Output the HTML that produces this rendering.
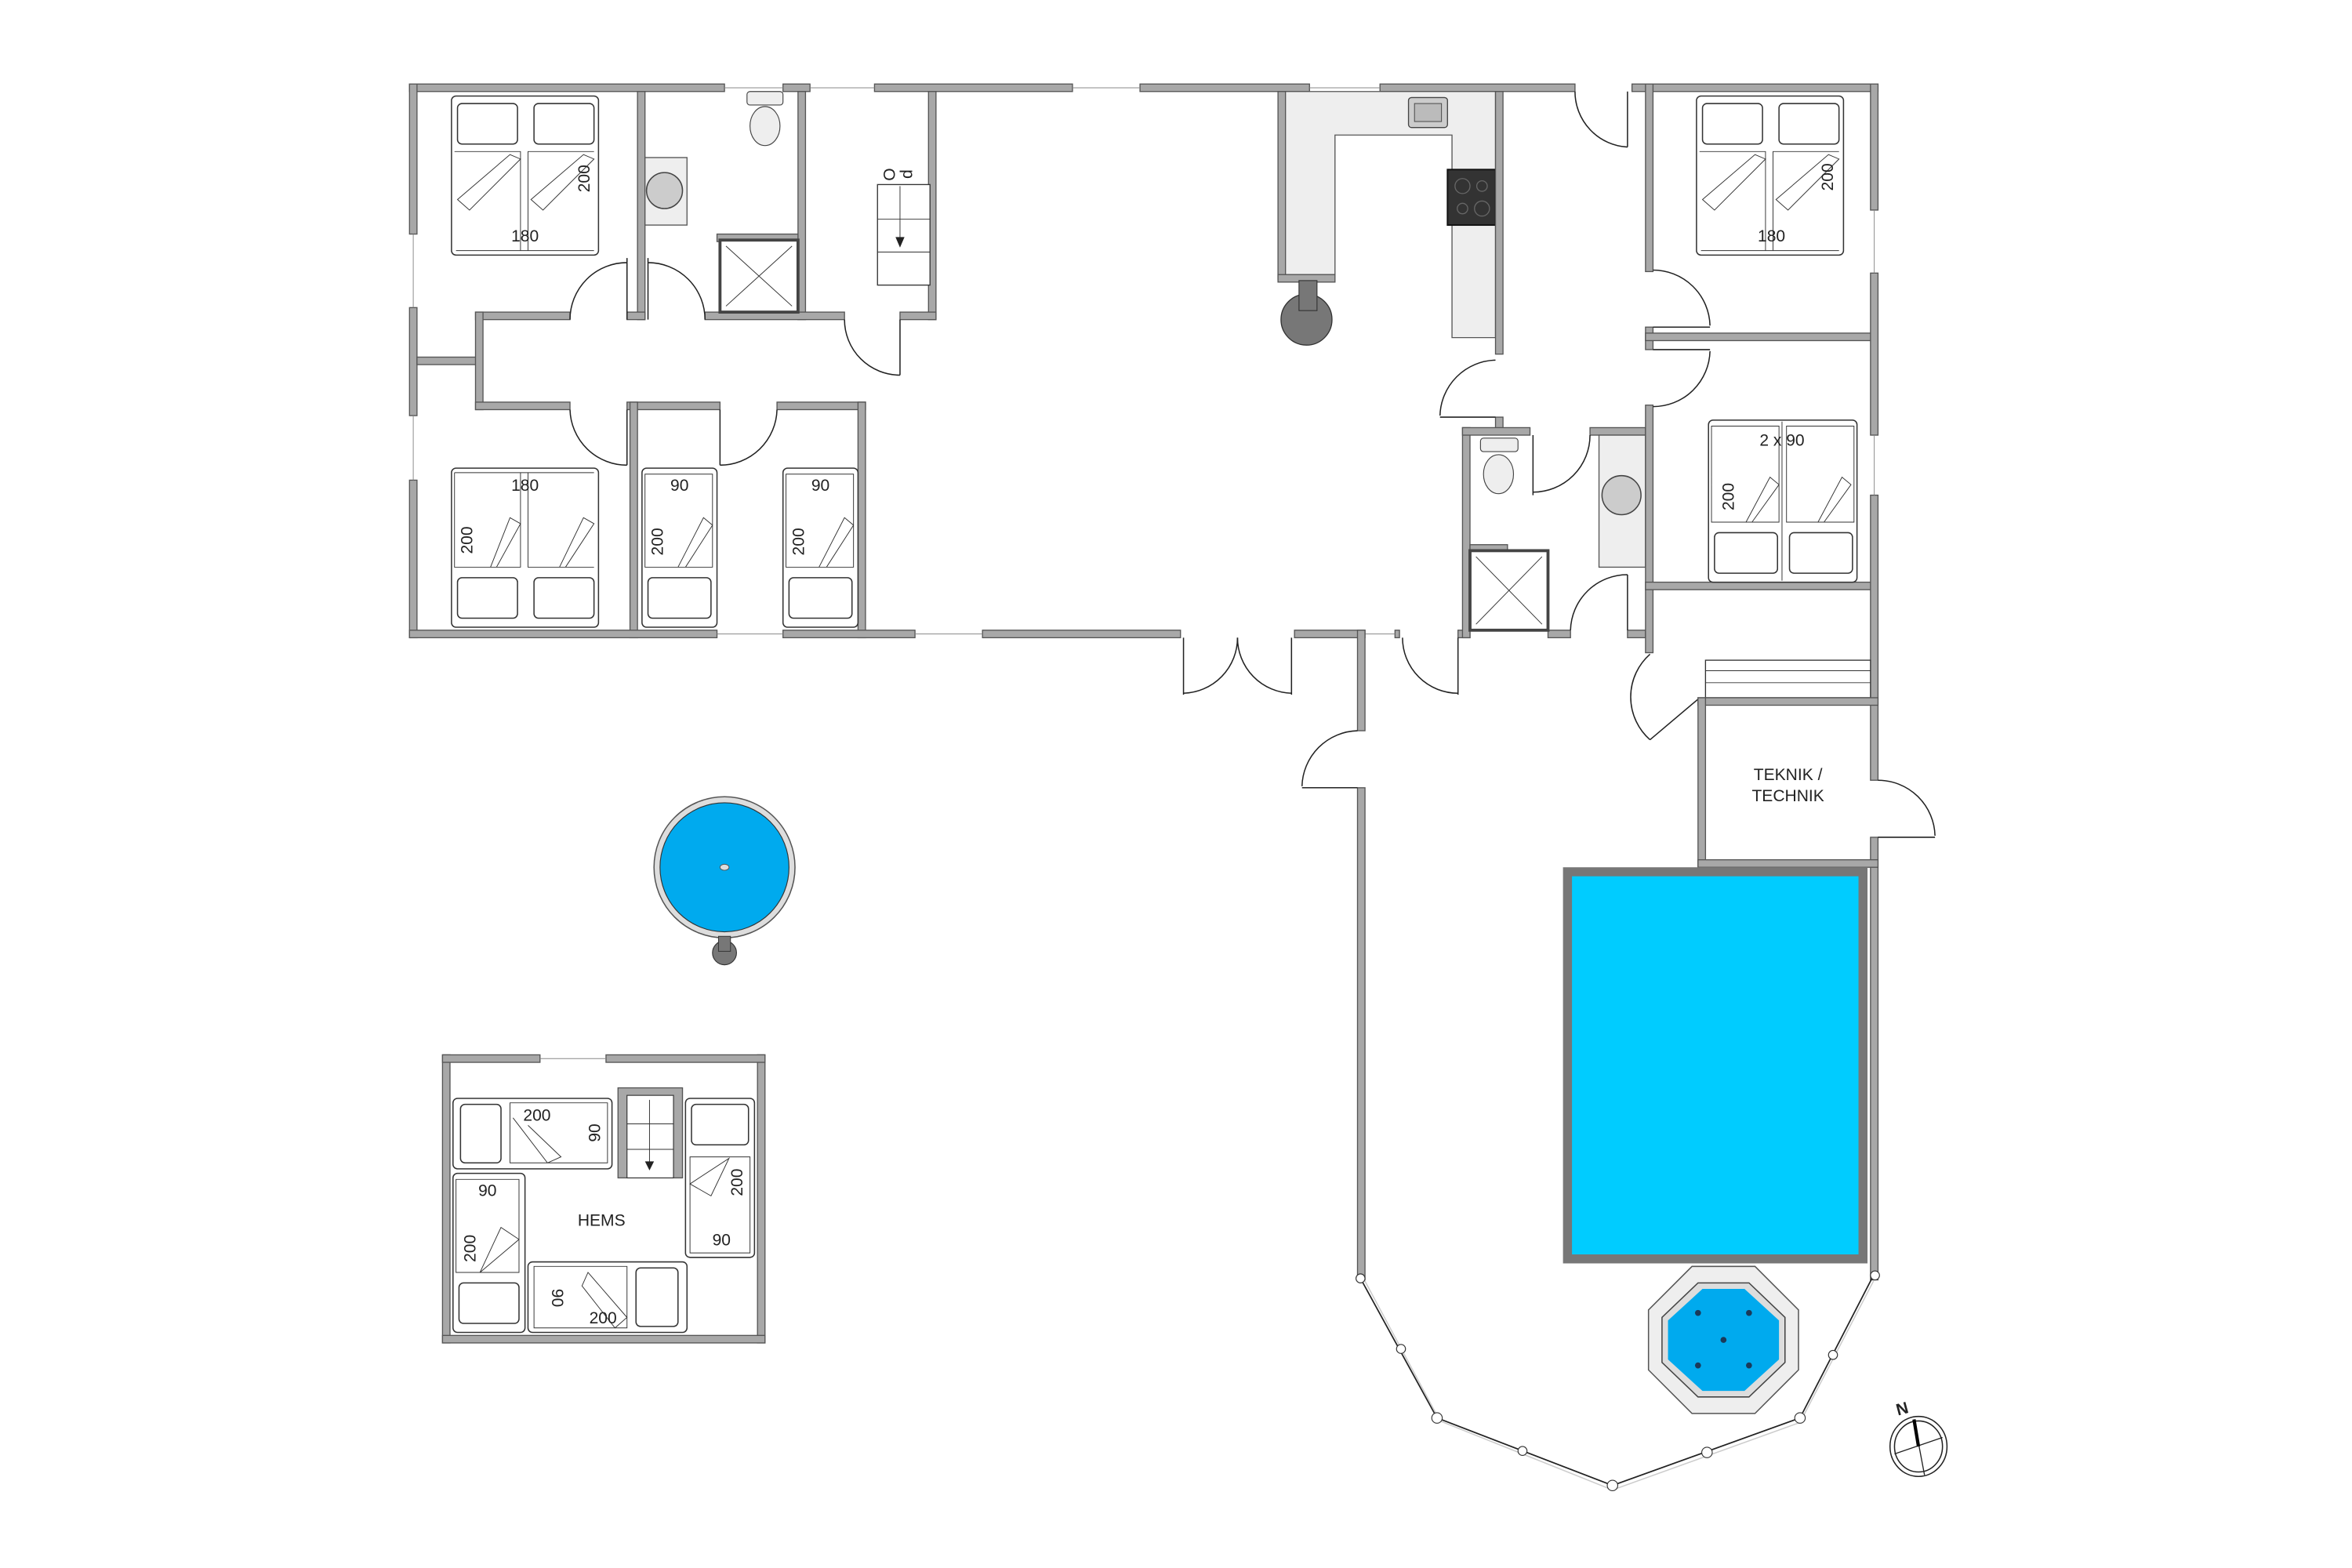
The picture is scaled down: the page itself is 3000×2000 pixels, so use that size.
<!DOCTYPE html>
<html><head><meta charset="utf-8"><style>
html,body{margin:0;padding:0;background:#fff;}
svg{display:block;}
.w{fill:#a8a8a8;stroke:#555;stroke-width:.7;}
.ln{fill:none;stroke:#222;stroke-width:.8;}
.th{fill:none;stroke:#333;stroke-width:.5;}
.bed{fill:#fff;stroke:#333;stroke-width:.8;}
.win{fill:none;stroke:#888;stroke-width:.5;}
.cnt{fill:#eee;stroke:#555;stroke-width:.7;}
text{font-family:"Liberation Sans",sans-serif;font-size:11px;fill:#222;}
</style></head><body>
<svg width="3000" height="2000" viewBox="0 0 1568 1045" preserveAspectRatio="none" xmlns="http://www.w3.org/2000/svg">
<rect width="1568" height="1045" fill="#fff"/>

<rect class="w" x="273" y="56" width="210" height="5"/>
<rect class="w" x="522" y="56" width="18" height="5"/>
<rect class="w" x="583" y="56" width="132" height="5"/>
<rect class="w" x="760" y="56" width="113" height="5"/>
<rect class="w" x="920" y="56" width="130" height="5"/>
<rect class="w" x="1088" y="56" width="164" height="5"/>
<g class="win"><line x1="483" y1="58.5" x2="522" y2="58.5"/><line x1="540" y1="58.5" x2="583" y2="58.5"/><line x1="715" y1="58.5" x2="760" y2="58.5"/><line x1="873" y1="58.5" x2="920" y2="58.5"/></g>

<rect class="w" x="273" y="56" width="5" height="100"/>
<rect class="w" x="273" y="205" width="5" height="72"/>
<rect class="w" x="273" y="320" width="5" height="105"/>
<g class="win"><line x1="275.5" y1="156" x2="275.5" y2="205"/><line x1="275.5" y1="277" x2="275.5" y2="320"/></g>
<rect class="w" x="278" y="238" width="40" height="5"/>

<rect class="w" x="425" y="61" width="5" height="152"/>
<rect class="w" x="532" y="61" width="5" height="152"/>
<rect class="w" x="619" y="61" width="5" height="152"/>
<rect class="w" x="317" y="208" width="63" height="5"/>
<rect class="w" x="418" y="208" width="12" height="5"/>
<rect class="w" x="470" y="208" width="93" height="5"/>
<rect class="w" x="600" y="208" width="24" height="5"/>
<rect class="w" x="317" y="208" width="5" height="65"/>
<rect class="w" x="317" y="268" width="63" height="5"/>
<rect class="w" x="418" y="268" width="62" height="5"/>
<rect class="w" x="518" y="268" width="59" height="5"/>
<rect class="w" x="420" y="268" width="5" height="157"/>
<rect class="w" x="572" y="268" width="5" height="157"/>

<g class="ln">
<path d="M418 213 V172 M380 213 A38 38 0 0 1 418 175"/>
<path d="M432 213 V172 M470 213 A38 38 0 0 0 432 175"/>
<path d="M600 213 V250 M563 213 A37 37 0 0 0 600 250"/>
<path d="M418 273 V310 M380 273 A38 38 0 0 0 418 310"/>
<path d="M480 273 V310 M518 273 A38 38 0 0 1 480 310"/>
</g>

<rect class="w" x="273" y="420" width="205" height="5"/>
<rect class="w" x="522" y="420" width="88" height="5"/>
<rect class="w" x="655" y="420" width="132" height="5"/>
<rect class="w" x="863" y="420" width="47" height="5"/>
<rect class="w" x="930" y="420" width="3" height="5"/>
<rect class="w" x="972" y="420" width="8" height="5"/>
<g class="win"><line x1="478" y1="422.5" x2="522" y2="422.5"/><line x1="610" y1="422.5" x2="655" y2="422.5"/><line x1="910" y1="422.5" x2="930" y2="422.5"/></g>
<g class="ln">
<path d="M789 425 V463 M825 425 A37 37 0 0 1 789 462"/>
<path d="M861 425 V463 M825 425 A37 37 0 0 0 861 462"/>
<path d="M972 425 V463 M935 425 A37 37 0 0 0 972 462"/>
</g>
<rect class="w" x="905" y="420" width="5" height="67"/>
<rect class="w" x="905" y="525" width="5" height="328"/>
<path class="ln" d="M905 525 H868 M905 487 A38 38 0 0 0 868 524"/>

<rect class="w" x="852" y="61" width="5" height="125"/>
<path class="cnt" d="M857 61 H997 V225 H968 V90 H890 V183 H857 Z"/>
<rect class="w" x="852" y="183" width="38" height="5"/>
<rect x="939" y="65" width="26" height="20" rx="2" fill="#ccc" stroke="#444" stroke-width=".7"/>
<rect x="943" y="69" width="18" height="12" fill="#bbb" stroke="#444" stroke-width=".5"/>
<rect x="965" y="113" width="32" height="37" fill="#333" stroke="#111"/>
<g fill="none" stroke="#666" stroke-width=".7"><circle cx="975" cy="124" r="5"/><circle cx="988" cy="124" r="3.5"/><circle cx="975" cy="139" r="3.5"/><circle cx="988" cy="139" r="5"/></g>
<circle cx="871" cy="213" r="17" fill="#777" stroke="#333" stroke-width=".7"/>
<rect x="866" y="187" width="12" height="20" fill="#777" stroke="#333" stroke-width=".6"/>
<rect class="w" x="997" y="61" width="5" height="175"/>
<rect class="w" x="997" y="278" width="5" height="10"/>
<path class="ln" d="M997 278 H960 M997 240 A38 38 0 0 0 960 277"/>
<path class="ln" d="M1085 61 V98 M1050 61 A37 37 0 0 0 1085 98"/>

<rect class="w" x="975" y="285" width="5" height="140"/>
<rect class="w" x="975" y="285" width="45" height="5"/>
<rect class="w" x="1060" y="285" width="37" height="5"/>
<rect class="w" x="1032" y="420" width="15" height="5"/>
<rect class="w" x="1085" y="420" width="12" height="5"/>
<path class="ln" d="M1022 290 V330 M1060 290 A38 38 0 0 1 1022 328"/>
<path class="ln" d="M1085 420 V383 M1047 420 A38 38 0 0 1 1085 383"/>
<rect x="987" y="292" width="25" height="9" rx="2" fill="#eee" stroke="#444" stroke-width=".6"/>
<ellipse cx="999" cy="316" rx="10" ry="13" fill="#eee" stroke="#444" stroke-width=".6"/>
<rect class="cnt" x="1066" y="290" width="31" height="88"/>
<circle cx="1081" cy="330" r="13" fill="#ccc" stroke="#444" stroke-width=".8"/>
<rect x="980" y="363" width="25" height="5" class="w"/>
<rect x="980" y="367" width="52" height="53" fill="#fff" stroke="#444" stroke-width="2"/>
<path class="th" d="M984 371 L1028 416 M1028 371 L984 416"/>

<rect x="498" y="61" width="24" height="9" rx="2" fill="#eee" stroke="#444" stroke-width=".6"/>
<ellipse cx="510" cy="84" rx="10" ry="13" fill="#eee" stroke="#444" stroke-width=".6"/>
<rect class="cnt" x="430" y="105" width="28" height="45"/>
<circle cx="443" cy="127" r="12" fill="#ccc" stroke="#444" stroke-width=".8"/>
<rect class="w" x="478" y="156" width="54" height="5"/>
<rect x="480" y="160" width="52" height="48" fill="#fff" stroke="#444" stroke-width="2"/>
<path class="th" d="M484 164 L528 204 M528 164 L484 204"/>
<rect x="585" y="123" width="35" height="67" fill="#fff" stroke="#333" stroke-width=".7"/>
<path class="th" d="M585 146 H620 M585 168 H620 M600 124 V160"/>
<path d="M597 158 L603 158 L600 165Z" fill="#222"/>
<text x="589" y="120" font-size="9" transform="rotate(90 593 116)">O</text>
<text x="604" y="119" font-size="9" transform="rotate(90 606 115)">p</text>

<rect class="w" x="1247" y="56" width="5" height="84"/>
<rect class="w" x="1247" y="182" width="5" height="108"/>
<rect class="w" x="1247" y="330" width="5" height="190"/>
<rect class="w" x="1247" y="558" width="5" height="295"/>
<g class="win"><line x1="1249.5" y1="140" x2="1249.5" y2="182"/><line x1="1249.5" y1="290" x2="1249.5" y2="330"/></g>
<rect class="w" x="1097" y="56" width="5" height="125"/>
<rect class="w" x="1097" y="218" width="5" height="15"/>
<rect class="w" x="1097" y="270" width="5" height="165"/>
<rect class="w" x="1097" y="222" width="150" height="5"/>
<rect class="w" x="1097" y="388" width="150" height="5"/>
<path class="ln" d="M1102 218 H1140 M1102 180 A38 38 0 0 1 1140 217"/>
<path class="ln" d="M1102 233 H1140 M1102 271 A38 38 0 0 0 1140 234"/>
<path class="ln" d="M1132 466 L1100 493 M1100 436 A38 38 0 0 0 1100 493"/>
<rect x="1137" y="440" width="110" height="25" fill="#fff" stroke="#333" stroke-width=".7"/>
<path class="th" d="M1137 447 H1247 M1137 455 H1247"/>
<rect class="w" x="1132" y="465" width="120" height="5"/>
<rect class="w" x="1132" y="465" width="5" height="113"/>
<rect class="w" x="1132" y="573" width="120" height="5"/>
<text x="1192" y="520" text-anchor="middle" font-size="11.5">TEKNIK /</text>
<text x="1192" y="534" text-anchor="middle" font-size="11.5">TECHNIK</text>
<path class="ln" d="M1252 558 H1290 M1252 520 A38 38 0 0 1 1290 557"/>

<rect x="1045" y="581" width="197" height="258" fill="#00ccff" stroke="#777" stroke-width="6"/>
<polygon points="1128,844 1170,844 1199,873 1199,913 1170,942 1128,942 1099,913 1099,873" fill="#eee" stroke="#555" stroke-width=".8"/>
<polygon points="1132,855 1166,855 1190,878 1190,908 1166,931 1132,931 1108,908 1108,878" fill="#ddd" stroke="#444" stroke-width=".8"/>
<polygon points="1135,859 1163,859 1186,880 1186,906 1163,927 1135,927 1112,906 1112,880" fill="#00aaee"/>
<g fill="#1a3a5a"><circle cx="1132" cy="875" r="2"/><circle cx="1166" cy="875" r="2"/><circle cx="1149" cy="893" r="2"/><circle cx="1132" cy="910" r="2"/><circle cx="1166" cy="910" r="2"/></g>
<polyline points="907,852 958,945 1075,990 1200,945 1250,848" fill="none" stroke="#222" stroke-width=".9"/>
<polyline points="909,852 960,947 1075,993 1200,948 1252,848" fill="none" stroke="#ccc" stroke-width=".8"/>
<g fill="#fff" stroke="#333" stroke-width=".6"><circle cx="934" cy="899" r="3"/><circle cx="958" cy="945" r="3.5"/><circle cx="1015" cy="967" r="3"/><circle cx="1075" cy="990" r="3.5"/><circle cx="1138" cy="968" r="3.5"/><circle cx="1200" cy="945" r="3.5"/><circle cx="1222" cy="903" r="3"/><circle cx="1250" cy="850" r="3"/><circle cx="907" cy="852" r="3"/></g>
<ellipse cx="1279" cy="964" rx="19" ry="20" fill="none" stroke="#222" stroke-width=".8"/>
<ellipse cx="1279" cy="964" rx="16" ry="17" fill="none" stroke="#222" stroke-width=".8"/>
<path d="M1263 969 L1295 958 M1276 946 L1283 983" stroke="#222" stroke-width=".7"/>
<path d="M1276 946 L1279 964" stroke="#000" stroke-width="2.2"/>
<text x="1264" y="942" font-size="12" font-weight="bold" transform="rotate(-15 1270 938)">N</text>

<circle cx="483" cy="578" r="47" fill="#ddd" stroke="#555" stroke-width=".8"/>
<circle cx="483" cy="578" r="43" fill="#00aaee" stroke="#333" stroke-width=".6"/>
<ellipse cx="483" cy="578" rx="3" ry="2" fill="#ddd" stroke="#555" stroke-width=".5"/>
<circle cx="483" cy="635" r="8" fill="#777" stroke="#333" stroke-width=".6"/>
<rect x="479" y="624" width="8" height="10" fill="#777" stroke="#333" stroke-width=".5"/>

<g>
<rect class="bed" x="301" y="64" width="98" height="106" rx="3"/>
<rect class="bed" x="305" y="69" width="40" height="27" rx="3"/><rect class="bed" x="356" y="69" width="40" height="27" rx="3"/>
<path class="th" d="M303 101 H347 V167 M352 167 V101 H396 M304 167 H396"/>
<path class="th" d="M305 133 L340 103 L347 106 L313 140 Z M354 133 L389 103 L396 106 L362 140 Z"/>
<text x="350" y="161" text-anchor="middle">180</text>
<text x="0" y="0" text-anchor="middle" transform="translate(393 119) rotate(-90)">200</text>
<rect class="bed" x="301" y="312" width="98" height="106" rx="3"/>
<rect class="bed" x="305" y="385" width="40" height="27" rx="3"/><rect class="bed" x="356" y="385" width="40" height="27" rx="3"/>
<path class="th" d="M303 315 H396 M303 315 V378 H347 V315 M352 315 V378 H396"/>
<path class="th" d="M327 378 L340 345 L347 349 L331 378 M373 378 L389 345 L396 349 L377 378"/>
<text x="350" y="327" text-anchor="middle">180</text>
<text x="0" y="0" text-anchor="middle" transform="translate(315 360) rotate(-90)">200</text>
<rect class="bed" x="428" y="312" width="50" height="106" rx="3"/>
<rect class="bed" x="432" y="385" width="42" height="27" rx="3"/>
<path class="th" d="M430 316 H475 V378 H430 Z M452 378 L469 345 L475 350 L457 378"/>
<text x="453" y="327" text-anchor="middle">90</text>
<text x="0" y="0" text-anchor="middle" transform="translate(442 361) rotate(-90)">200</text>
<rect class="bed" x="522" y="312" width="50" height="106" rx="3"/>
<rect class="bed" x="526" y="385" width="42" height="27" rx="3"/>
<path class="th" d="M524 316 H569 V378 H524 Z M546 378 L563 345 L569 350 L551 378"/>
<text x="547" y="327" text-anchor="middle">90</text>
<text x="0" y="0" text-anchor="middle" transform="translate(536 361) rotate(-90)">200</text>
<rect class="bed" x="1131" y="64" width="98" height="106" rx="3"/>
<rect class="bed" x="1135" y="69" width="40" height="27" rx="3"/><rect class="bed" x="1186" y="69" width="40" height="27" rx="3"/>
<path class="th" d="M1133 101 H1177 V167 M1182 167 V101 H1226 M1134 167 H1226"/>
<path class="th" d="M1135 133 L1170 103 L1177 106 L1143 140 Z M1184 133 L1219 103 L1226 106 L1192 140 Z"/>
<text x="1181" y="161" text-anchor="middle">180</text>
<text x="0" y="0" text-anchor="middle" transform="translate(1222 118) rotate(-90)">200</text>
<rect class="bed" x="1139" y="280" width="99" height="108" rx="3"/>
<rect class="bed" x="1143" y="355" width="42" height="27" rx="3"/><rect class="bed" x="1193" y="355" width="42" height="27" rx="3"/>
<path class="th" d="M1188 281 V387 M1141 284 H1186 V348 H1141 Z M1191 284 H1236 V348 H1191 Z M1164 348 L1180 318 L1186 323 L1168 348 M1212 348 L1228 318 L1234 323 L1216 348"/>
<text x="1188" y="297" text-anchor="middle" font-size="11.5">2 x 90</text>
<text x="0" y="0" text-anchor="middle" transform="translate(1156 331) rotate(-90)">200</text>
</g>

<rect class="w" x="295" y="703" width="5" height="192"/>
<rect class="w" x="505" y="703" width="5" height="192"/>
<rect class="w" x="295" y="890" width="215" height="5"/>
<rect class="w" x="295" y="703" width="65" height="5"/>
<rect class="w" x="404" y="703" width="106" height="5"/>
<line class="win" x1="360" y1="705.5" x2="404" y2="705.5"/>
<rect class="bed" x="302" y="732" width="106" height="47" rx="3"/>
<rect class="bed" x="307" y="736" width="27" height="39" rx="3"/>
<path class="th" d="M340 735 H405 V775 H340 Z M342 745 L365 775 L374 771 L352 750"/>
<text x="358" y="747" text-anchor="middle">200</text>
<text x="0" y="0" text-anchor="middle" transform="translate(400 755) rotate(-90)">90</text>
<rect class="w" x="412" y="725" width="43" height="60"/>
<rect x="418" y="730" width="31" height="55" fill="#fff" stroke="#333" stroke-width=".6"/>
<path class="th" d="M418 749 H449 M418 766 H449 M433 733 V776"/>
<path d="M430 774 L436 774 L433 780 Z" fill="#222"/>
<rect class="bed" x="457" y="732" width="46" height="106" rx="3"/>
<rect class="bed" x="461" y="736" width="38" height="27" rx="3"/>
<path class="th" d="M460 771 H500 V835 H460 Z M460 789 L486 772 L474 797 Z"/>
<text x="0" y="0" text-anchor="middle" transform="translate(495 788) rotate(-90)">200</text>
<text x="481" y="830" text-anchor="middle">90</text>
<rect class="bed" x="302" y="782" width="48" height="106" rx="3"/>
<rect class="bed" x="306" y="855" width="40" height="27" rx="3"/>
<path class="th" d="M304 786 H346 V848 H304 Z M320 848 L334 818 L346 826 Z"/>
<text x="325" y="797" text-anchor="middle">90</text>
<text x="0" y="0" text-anchor="middle" transform="translate(317 832) rotate(-90)">200</text>
<rect class="bed" x="352" y="841" width="106" height="47" rx="3"/>
<rect class="bed" x="424" y="845" width="28" height="39" rx="3"/>
<path class="th" d="M356 844 H418 V885 H356 Z M392 848 L418 878 L410 885 L388 857 Z"/>
<text x="0" y="0" text-anchor="middle" transform="translate(368 865) rotate(90)">90</text>
<text x="402" y="882" text-anchor="middle">200</text>
<text x="401" y="817" text-anchor="middle" font-size="11.5">HEMS</text>
</svg>
</body></html>
